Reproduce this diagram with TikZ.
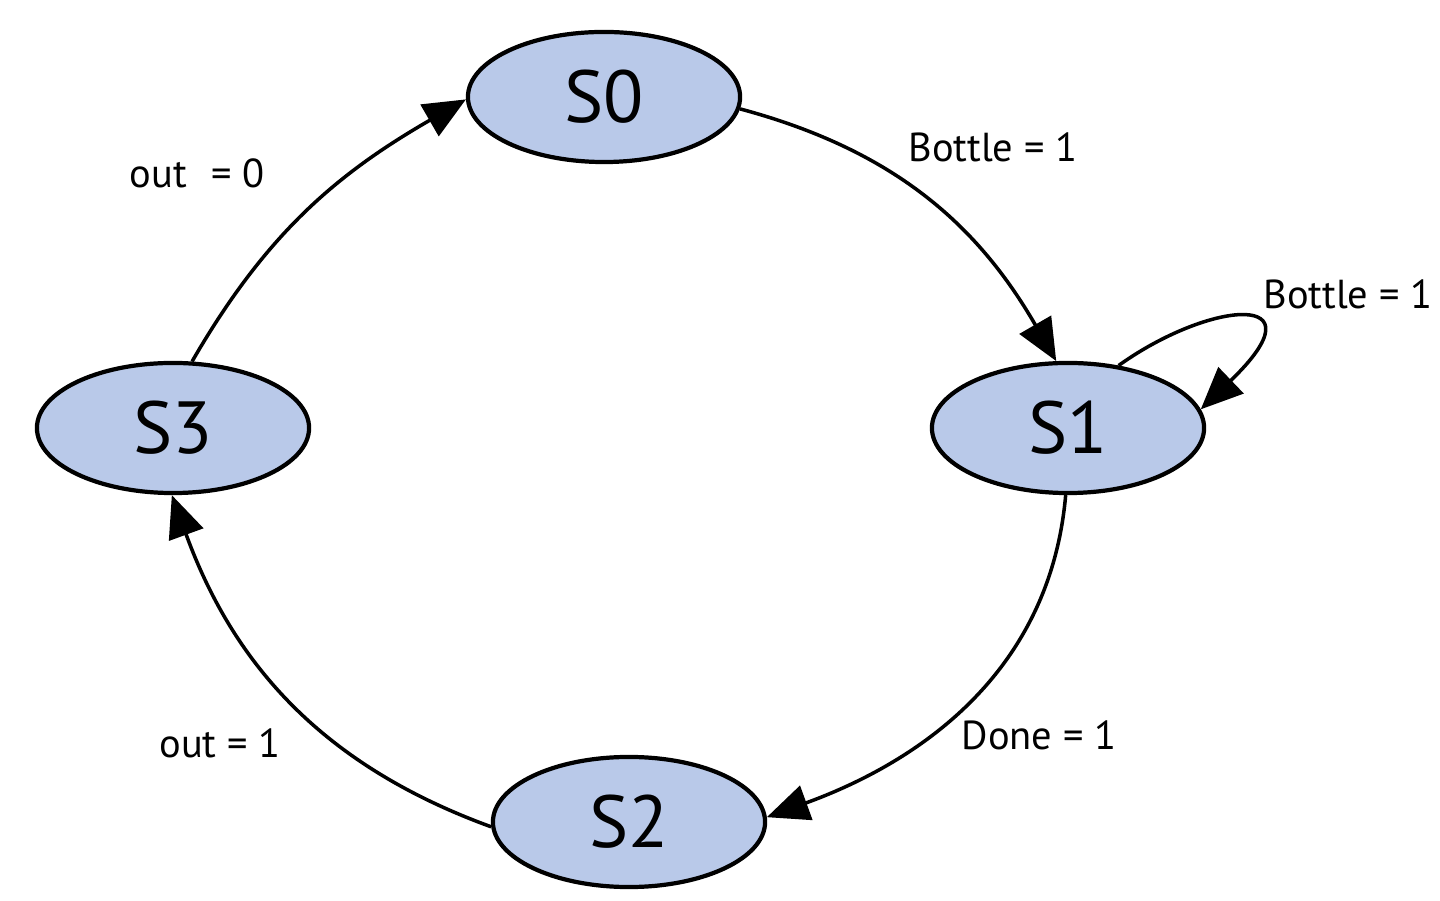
\documentclass[tikz,border=0pt]{standalone}
\usepackage{fontspec}
\setmainfont{PT Sans}
\usetikzlibrary{shapes.geometric,arrows.meta}
\definecolor{statefill}{RGB}{185,201,233}
\tikzset{
  state/.style={ellipse, draw=black, line width=1.2pt, fill=statefill,
    minimum width=2.72cm, minimum height=1.30cm, inner sep=0pt,
    font=\fontsize{21}{25}\selectfont},
  trans/.style={line width=1pt, -{Triangle[length=0.42cm,width=0.36cm]}},
  lbl/.style={font=\fontsize{11.5}{14}\selectfont, inner sep=0pt}
}
\begin{document}
\begin{tikzpicture}[x=0.01cm,y=-0.01cm]
\useasboundingbox (0,0) rectangle (1440,901);
\node[state] (S0) at (604,97) {S0};
\node[state] (S1) at (1068,428) {S1};
\node[state] (S2) at (629,822) {S2};
\node[state] (S3) at (173,428) {S3};

\draw[trans] (S0.-5) to[out=-15,in=120] (S1.100);
\draw[trans] (S1.-92) to[out=-95,in=20] (S2.2);
\draw[trans] (S2.182) to[out=160,in=-70] (S3.-91);
\draw[trans] (S3.74) to[out=60,in=210] (S0.181);
\draw[trans] (S1.51) .. controls (1210,300) and (1325,290) .. (S1.8);

\node[lbl] (l01) at (993,147) {Bottle = 1};
\node[lbl] (l11) at (1348,294) {Bottle = 1};
\node[lbl] (l12) at (1039,735) {Done = 1};
\node[lbl] (l23) at (220,743) {out = 1};
\node[lbl] (l30) at (197,173) {out\hspace{0.6em}= 0};
\end{tikzpicture}
\end{document}
